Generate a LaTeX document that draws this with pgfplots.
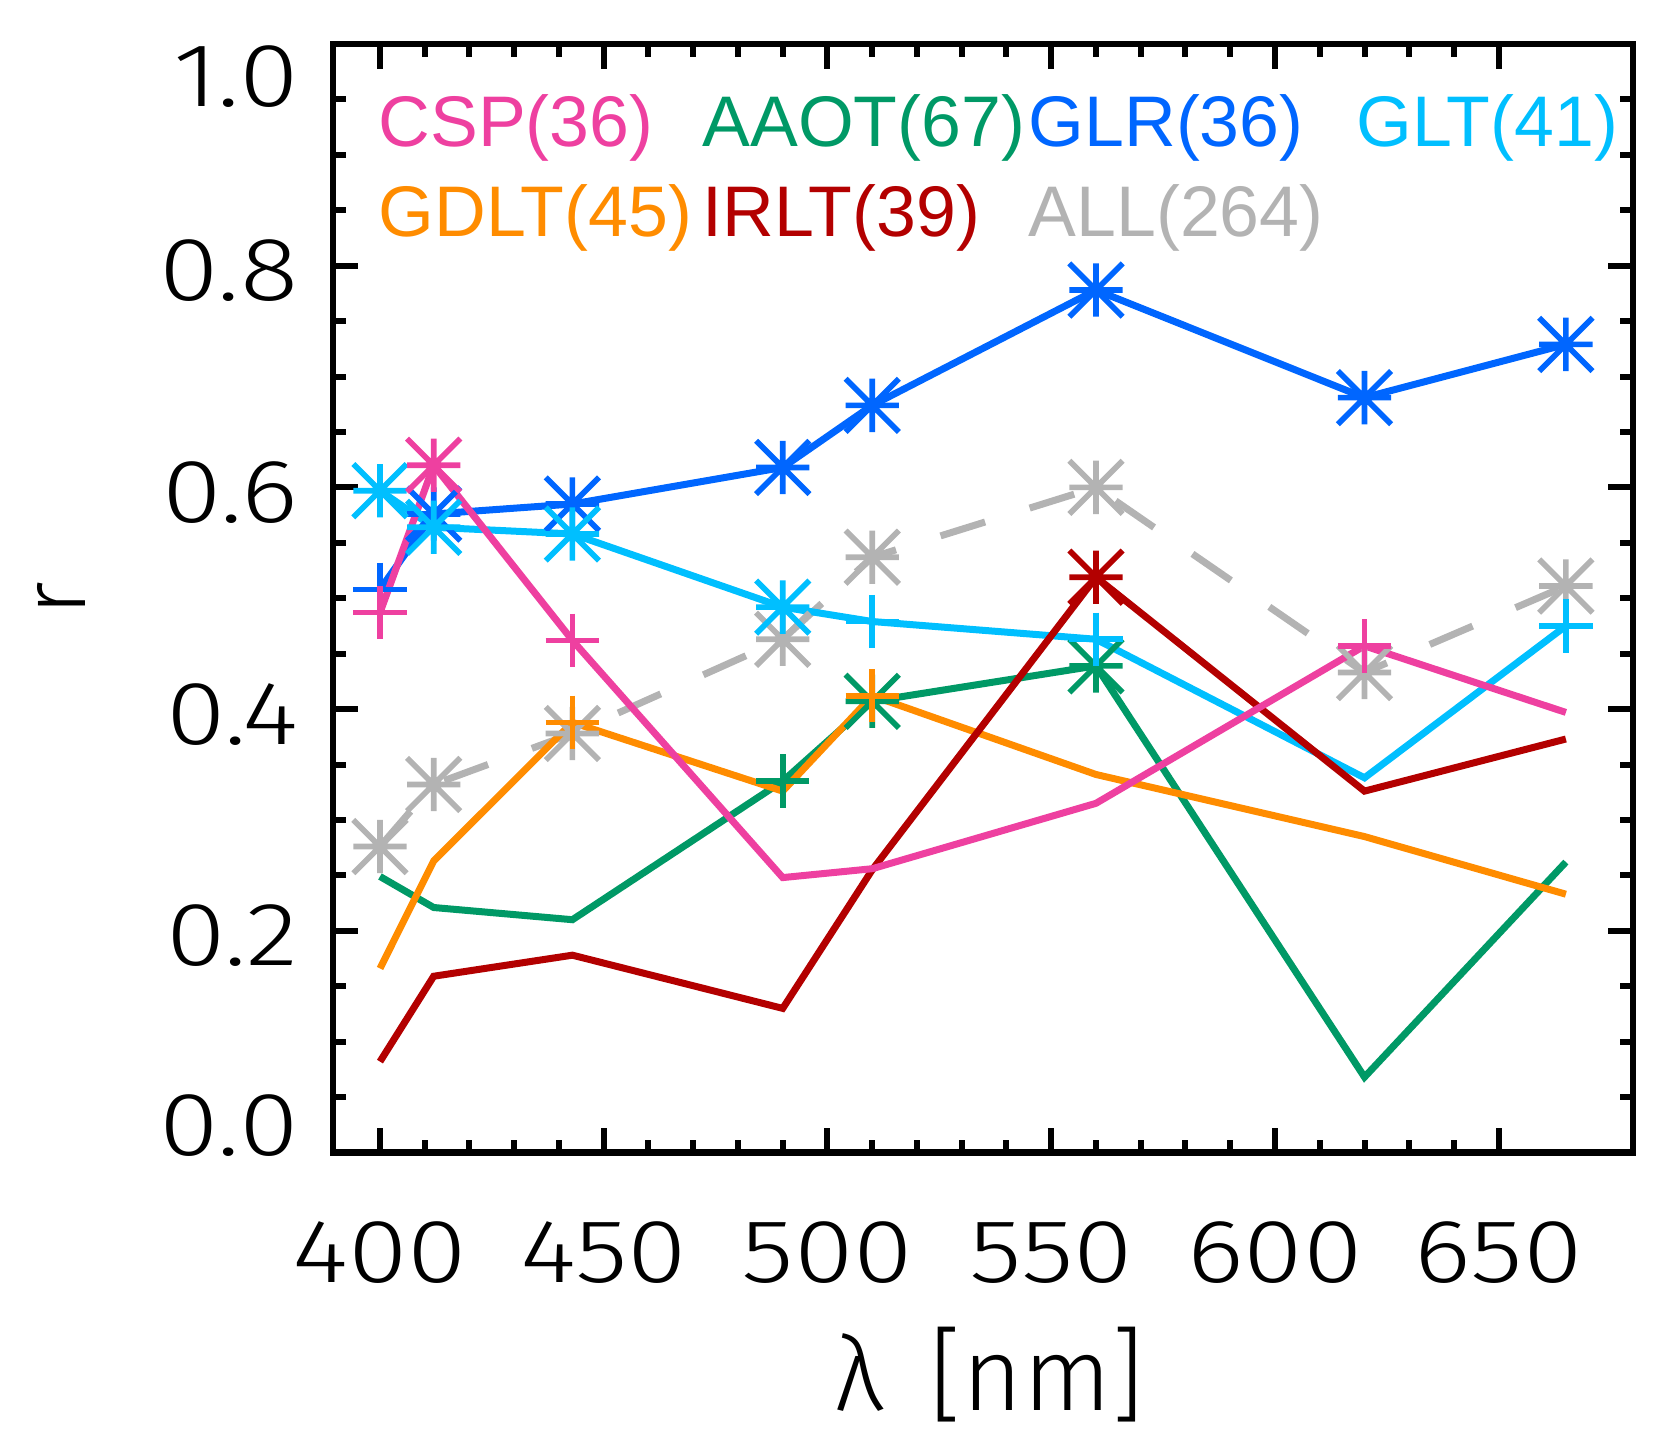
\documentclass[border=0pt]{standalone}
\usepackage{fontspec}
\setmainfont{Liberation Sans}
\newfontfamily\thinfont{Fira Sans Light}
\newfontfamily\widefont{Fira Sans Light}[FakeStretch=1.2]
\usepackage{pgfplots}
\pgfplotsset{compat=1.18}

\definecolor{cspc}{RGB}{238,64,160}
\definecolor{aaotc}{RGB}{0,153,102}
\definecolor{glrc}{RGB}{0,102,255}
\definecolor{gltc}{RGB}{0,191,255}
\definecolor{gdltc}{RGB}{255,140,0}
\definecolor{irltc}{RGB}{179,0,0}
\definecolor{allc}{RGB}{179,179,179}

% IDL style asterisk: plus and cross together
\pgfdeclareplotmark{ast8}{%
  \pgfpathmoveto{\pgfqpoint{0pt}{\pgfplotmarksize}}%
  \pgfpathlineto{\pgfqpoint{0pt}{-\pgfplotmarksize}}%
  \pgfpathmoveto{\pgfqpoint{\pgfplotmarksize}{0pt}}%
  \pgfpathlineto{\pgfqpoint{-\pgfplotmarksize}{0pt}}%
  \pgfpathmoveto{\pgfqpoint{\pgfplotmarksize}{\pgfplotmarksize}}%
  \pgfpathlineto{\pgfqpoint{-\pgfplotmarksize}{-\pgfplotmarksize}}%
  \pgfpathmoveto{\pgfqpoint{\pgfplotmarksize}{-\pgfplotmarksize}}%
  \pgfpathlineto{\pgfqpoint{-\pgfplotmarksize}{\pgfplotmarksize}}%
  \pgfusepathqstroke}

\newcommand{\labfont}{\thinfont\fontsize{27}{31}\selectfont}
\newcommand{\tickfont}{\widefont\fontsize{27}{31}\selectfont}
\newcommand{\legfont}{\fontsize{21.5}{25}\selectfont}

\begin{document}
\begin{tikzpicture}
\useasboundingbox (-99.9pt,-90.45pt) rectangle (404.1pt,345.75pt);
\begin{axis}[
    at={(0pt,0pt)}, anchor=south west,
    width=390pt, height=332.55pt, scale only axis,
    xmin=389.5, xmax=680, ymin=0, ymax=1,
    xtick={400,450,500,550,600,650}, minor x tick num=4,
    ytick={0,0.2,0.4,0.6,0.8,1.0}, minor y tick num=3,
    tick align=inside,
    major tick length=7.4pt, minor tick length=3.8pt,
    every tick/.style={black, line width=1.8pt},
    axis line style={line width=2pt},
    /pgf/number format/assume math mode=true,
    ticklabel style={font=\tickfont},
    xticklabel style={anchor=center, yshift=-30pt},
    yticklabel style={/pgf/number format/.cd, fixed, fixed zerofill, precision=1, /tikz/.cd,
                      anchor=east, inner sep=0pt, xshift=-10.2pt,
                      yshift={(\ticknum==0)*9.6pt-(\ticknum==5)*8.4pt-1.5pt}},
    xlabel={λ\hspace{0.45em}[nm]},
    xlabel style={font=\thinfont\fontsize{31}{35}\selectfont, at={(axis description cs:0.505,-0.2007)}, anchor=center},
    ylabel={r},
    ylabel style={font=\labfont, at={(axis description cs:-0.2088,0.5)}, anchor=center},
    clip=false,
  ]

  % ALL(264)
  \addplot[allc, line width=2.1pt, dash pattern=on 14pt off 14pt] coordinates {
    (400,0.276) (412,0.332) (443,0.378) (490,0.463) (510,0.537) (560,0.600) (620,0.433) (665,0.511)};
  \addplot[allc, only marks, mark=ast8, mark size=8pt, mark options={line width=1.7pt, solid}] coordinates {
    (400,0.276) (412,0.332) (443,0.378) (490,0.463) (510,0.537) (560,0.600) (620,0.433) (665,0.511)};

  % AAOT(67)
  \addplot[aaotc, line width=2.1pt] coordinates {
    (400,0.249) (412,0.221) (443,0.210) (490,0.335) (510,0.407) (560,0.439) (620,0.068) (665,0.262)};
  \addplot[aaotc, only marks, mark=ast8, mark size=8pt, mark options={line width=1.7pt}] coordinates {
    (510,0.407) (560,0.439)};
  \addplot[aaotc, only marks, mark=+, mark size=8pt, mark options={line width=1.7pt}] coordinates {
    (490,0.335)};

  % GLR(36)
  \addplot[glrc, line width=2.1pt] coordinates {
    (400,0.508) (412,0.576) (443,0.585) (490,0.618) (510,0.674) (560,0.778) (620,0.681) (665,0.729)};
  \addplot[glrc, only marks, mark=ast8, mark size=8pt, mark options={line width=1.7pt}] coordinates {
    (412,0.576) (443,0.585) (490,0.618) (510,0.674) (560,0.778) (620,0.681) (665,0.729)};
  \addplot[glrc, only marks, mark=+, mark size=8pt, mark options={line width=1.7pt}] coordinates {
    (400,0.508)};

  % GLT(41)
  \addplot[gltc, line width=2.1pt] coordinates {
    (400,0.597) (412,0.564) (443,0.558) (490,0.492) (510,0.479) (560,0.463) (620,0.338) (665,0.475)};
  \addplot[gltc, only marks, mark=ast8, mark size=8pt, mark options={line width=1.7pt}] coordinates {
    (400,0.597) (412,0.564) (443,0.558) (490,0.492)};
  \addplot[gltc, only marks, mark=+, mark size=8pt, mark options={line width=1.7pt}] coordinates {
    (510,0.479) (560,0.463) (665,0.475)};

  % GDLT(45)
  \addplot[gdltc, line width=2.1pt] coordinates {
    (400,0.166) (412,0.263) (443,0.388) (490,0.326) (510,0.412) (560,0.341) (620,0.285) (665,0.233)};
  \addplot[gdltc, only marks, mark=+, mark size=8pt, mark options={line width=1.7pt}] coordinates {
    (443,0.388) (510,0.412)};

  % IRLT(39)
  \addplot[irltc, line width=2.1pt] coordinates {
    (400,0.082) (412,0.159) (443,0.178) (490,0.130) (510,0.255) (560,0.519) (620,0.326) (665,0.373)};
  \addplot[irltc, only marks, mark=ast8, mark size=8pt, mark options={line width=1.7pt}] coordinates {
    (560,0.519)};

  % CSP(36)
  \addplot[cspc, line width=2.1pt] coordinates {
    (400,0.487) (412,0.620) (443,0.462) (490,0.248) (510,0.256) (560,0.315) (620,0.457) (665,0.397)};
  \addplot[cspc, only marks, mark=ast8, mark size=8pt, mark options={line width=1.7pt}] coordinates {
    (412,0.620)};
  \addplot[cspc, only marks, mark=+, mark size=8pt, mark options={line width=1.7pt}] coordinates {
    (400,0.487) (443,0.462) (620,0.457)};

  % group names and sizes
  \node[anchor=base west, inner sep=0pt, text=cspc,  font=\legfont] at (rel axis cs:0.0346,0.9074) {CSP(36)};
  \node[anchor=base west, inner sep=0pt, text=aaotc, font=\legfont] at (rel axis cs:0.2838,0.9074) {AAOT(67)};
  \node[anchor=base west, inner sep=0pt, text=glrc,  font=\legfont] at (rel axis cs:0.5346,0.9074) {GLR(36)};
  \node[anchor=base west, inner sep=0pt, text=gltc,  font=\legfont] at (rel axis cs:0.7869,0.9074) {GLT(41)};
  \node[anchor=base west, inner sep=0pt, text=gdltc, font=\legfont] at (rel axis cs:0.0346,0.8262) {GDLT(45)};
  \node[anchor=base west, inner sep=0pt, text=irltc, font=\legfont] at (rel axis cs:0.2838,0.8262) {IRLT(39)};
  \node[anchor=base west, inner sep=0pt, text=allc,  font=\legfont] at (rel axis cs:0.5346,0.8262) {ALL(264)};
\end{axis}
\end{tikzpicture}
\end{document}
